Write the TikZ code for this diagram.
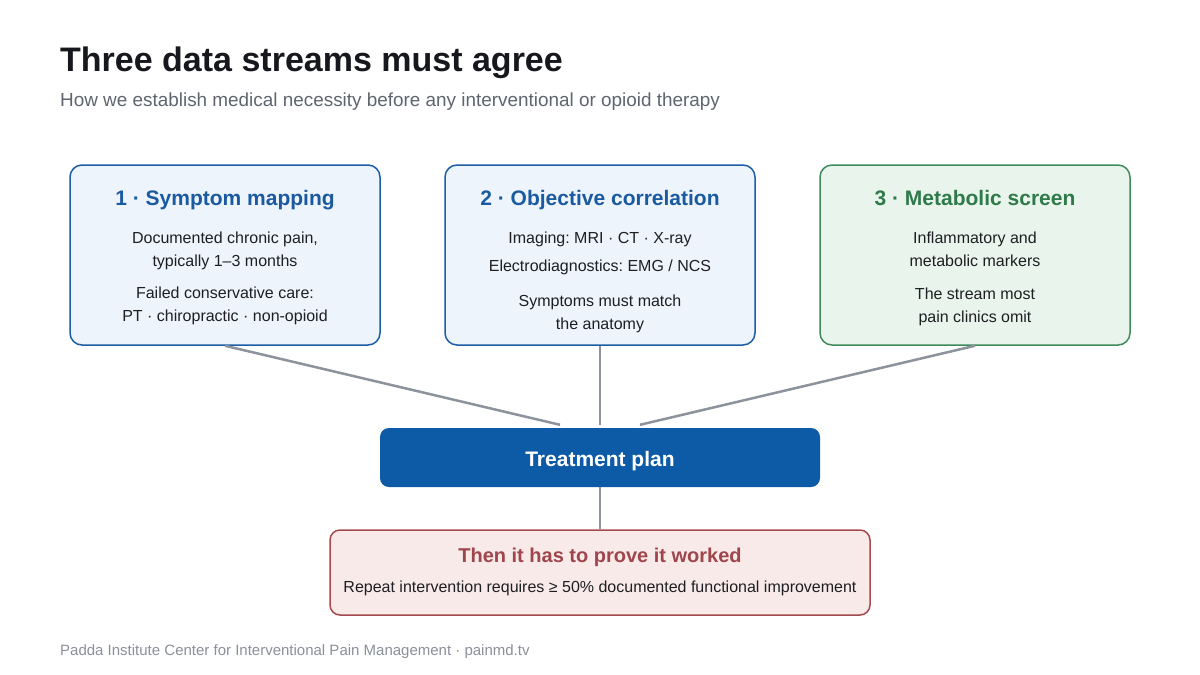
\documentclass[tikz,border=0pt]{standalone}
\usepackage{fontspec}
\setmainfont{Liberation Sans}
\usetikzlibrary{calc}
\frenchspacing
\definecolor{titlec}{HTML}{16181D}
\definecolor{subc}{HTML}{5F6570}
\definecolor{bluebd}{HTML}{1B5EA6}
\definecolor{bluefill}{HTML}{EEF4FB}
\definecolor{bluetx}{HTML}{1A5AA0}
\definecolor{greenbd}{HTML}{3D8A5A}
\definecolor{greenfill}{HTML}{E9F5EC}
\definecolor{greentx}{HTML}{2F7A4A}
\definecolor{tpfill}{HTML}{0D5AA7}
\definecolor{linkc}{HTML}{8C939C}
\definecolor{redfill}{HTML}{F9EAEA}
\definecolor{redbd}{HTML}{A64A50}
\definecolor{redtx}{HTML}{9E464C}
\definecolor{bodyc}{HTML}{1D1F23}
\definecolor{footc}{HTML}{8B9099}
\tikzset{
  card/.style={draw, line width=1.5pt, rounded corners=12pt, minimum width=310pt, minimum height=180pt, inner sep=0pt},
  bluecard/.style={card, draw=bluebd, fill=bluefill},
  greencard/.style={card, draw=greenbd, fill=greenfill},
  cardtitle/.style={font=\bfseries\fontsize{21}{25}\selectfont, anchor=base, inner sep=0pt},
  body/.style={font=\fontsize{16}{19}\selectfont, text=bodyc, anchor=base, inner sep=0pt},
  link/.style={draw=linkc, line width=2.5pt},
}
\begin{document}
\begin{tikzpicture}[x=1pt,y=-1pt]
\useasboundingbox[fill=white] (0,0) rectangle (1200,675);
% title
\node[anchor=base west, inner sep=0pt, text=titlec, font=\bfseries\fontsize{34}{40}\selectfont] (title) at (60,71) {Three data streams must agree};
\node[anchor=base west, inner sep=0pt, text=subc, font=\fontsize{18.9}{22}\selectfont] (sub) at (60,106) {How we establish medical necessity before any interventional or opioid therapy};
% cards
\node[bluecard] (c1) at (225,255) {};
\node[bluecard] (c2) at (600,255) {};
\node[greencard] (c3) at (975,255) {};
% card 1 text
\node[cardtitle, text=bluetx] (t1) at (225,205) {1 · Symptom mapping};
\node[body] (b1a) at (225,243) {Documented chronic pain,};
\node[body] (b1b) at (225,266) {typically 1–3 months};
\node[body] (b1c) at (225,298) {Failed conservative care:};
\node[body] (b1d) at (225,321) {PT · chiropractic · non-opioid};
% card 2 text
\node[cardtitle, text=bluetx] (t2) at (600,205) {2 · Objective correlation};
\node[body] (b2a) at (600,243) {Imaging: MRI · CT · X-ray};
\node[body] (b2b) at (600,271) {Electrodiagnostics: EMG / NCS};
\node[body] (b2c) at (600,306) {Symptoms must match};
\node[body] (b2d) at (600,329) {the anatomy};
% card 3 text
\node[cardtitle, text=greentx] (t3) at (975,205) {3 · Metabolic screen};
\node[body] (b3a) at (975,243) {Inflammatory and};
\node[body] (b3b) at (975,266) {metabolic markers};
\node[body] (b3c) at (975,299) {The stream most};
\node[body] (b3d) at (975,322) {pain clinics omit};
% treatment plan
\node[fill=tpfill, rounded corners=9pt, minimum width=440pt, minimum height=59pt, inner sep=0pt] (tp) at (600,457.5) {};
\node[anchor=base, inner sep=0pt, text=white, font=\bfseries\fontsize{21}{25}\selectfont] (tpl) at (600,466) {Treatment plan};
% outcome box
\node[draw=redbd, fill=redfill, line width=1.5pt, rounded corners=10pt, minimum width=540pt, minimum height=85pt, inner sep=0pt] (out) at (600,572.5) {};
\node[anchor=base, inner sep=0pt, text=redtx, font=\bfseries\fontsize{20}{24}\selectfont] (ot) at (600,562) {Then it has to prove it worked};
\node[body] (ob) at (600,592) {Repeat intervention requires ≥ 50\% documented functional improvement};
% connectors
\coordinate (e1) at ($(tp.north)+(-40,-3)$);
\coordinate (e2) at ($(tp.north)+(0,-3)$);
\coordinate (e3) at ($(tp.north)+(40,-3)$);
\draw[link] (c1.south) -- (e1);
\draw[link] (c2.south) -- (e2);
\draw[link] (c3.south) -- (e3);
\draw[link] (tp.south) -- (out.north);
% footer
\node[anchor=base west, inner sep=0pt, text=footc, font=\fontsize{15}{18}\selectfont] (foot) at (60,655) {Padda Institute Center for Interventional Pain Management · painmd.tv};
\end{tikzpicture}
\end{document}
